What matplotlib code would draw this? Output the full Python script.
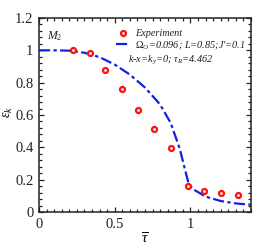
import numpy as np
import matplotlib
matplotlib.use("Agg")
import matplotlib.pyplot as plt
from matplotlib.ticker import MultipleLocator

plt.rcParams['font.family'] = ['Liberation Serif', 'DejaVu Serif']
plt.rcParams['mathtext.fontset'] = 'custom'
plt.rcParams['mathtext.rm'] = 'Liberation Serif'
plt.rcParams['mathtext.it'] = 'Liberation Serif:italic'

# experiment points
exp_tau = [0.225, 0.338, 0.437, 0.55, 0.656, 0.762, 0.87, 0.982, 1.088, 1.203, 1.311]
exp_eps = [1.005, 0.983, 0.878, 0.76, 0.63, 0.515, 0.394, 0.159, 0.128, 0.119, 0.107]

# model curve
mod_tau = [0, 0.1, 0.2, 0.3, 0.4, 0.5, 0.6, 0.7, 0.8, 0.87, 0.93, 0.97, 0.99,
           1.02, 1.1, 1.2, 1.3, 1.4]
mod_eps = [1.0, 1.0, 0.998, 0.985, 0.958, 0.912, 0.85, 0.77, 0.665, 0.55,
           0.39, 0.24, 0.17, 0.14, 0.095, 0.068, 0.053, 0.045]

fig = plt.figure(figsize=(2.77, 2.49), dpi=100)
ax = fig.add_axes([39/277, 37/249, 212/277, 194/249])

ax.plot(mod_tau, mod_eps, color='#1020e8', ls=(0, (5, 1.5, 1.5, 1.5)), lw=1.6,
        label=r"$\Omega_O$=0.096; L=0.85;J'=0.1", zorder=2)
ax.plot(exp_tau, exp_eps, 'o', ms=3.6, mfc='white', mec='#ff1010', mew=1.6,
        ls='none', label='Experiment', zorder=3)

ax.set_xlim(0, 1.4)
ax.set_ylim(0, 1.2)
ax.xaxis.set_major_locator(MultipleLocator(0.5))
ax.xaxis.set_minor_locator(MultipleLocator(0.05))
ax.yaxis.set_major_locator(MultipleLocator(0.2))
ax.yaxis.set_minor_locator(MultipleLocator(0.04))
ax.xaxis.set_major_formatter(plt.FuncFormatter(lambda v, p: f"{v:g}"))
ax.yaxis.set_major_formatter(plt.FuncFormatter(lambda v, p: f"{v:g}"))
ax.tick_params(which='both', direction='in', top=True, right=True,
               labelsize=10.5, colors='#222222', width=0.9)
ax.tick_params(which='major', length=3.5, pad=4)
ax.tick_params(which='minor', length=2)
for s in ax.spines.values():
    s.set_linewidth(1.1)
    s.set_color('#222222')

ax.set_xlabel(r'$\overline{\tau}$', fontsize=11, labelpad=1)
ax.set_ylabel(r'$\overline{\epsilon}_k$', fontsize=10)
ax.yaxis.set_label_coords(-0.112, 0.515)

h, l = ax.get_legend_handles_labels()
leg = ax.legend(h[::-1], l[::-1], loc='upper left', bbox_to_anchor=(0.34, 0.97),
                frameon=False, handlelength=1.3, handletextpad=0.5,
                borderpad=0, labelspacing=0.1, prop={'style': 'italic', 'size': 7.4})
for t in leg.get_texts():
    t.set_color('#222222')
ax.text(0.42, 0.78, r"k-x=k$_y$=0; $\tau_R$=4.462", transform=ax.transAxes,
        fontsize=7.4, style='italic', color='#222222', va='center')
ax.text(0.04, 0.905, r"$M_2$", transform=ax.transAxes, fontsize=8.5,
        color='#222222', va='center')

fig.savefig('out.png', dpi=100)
